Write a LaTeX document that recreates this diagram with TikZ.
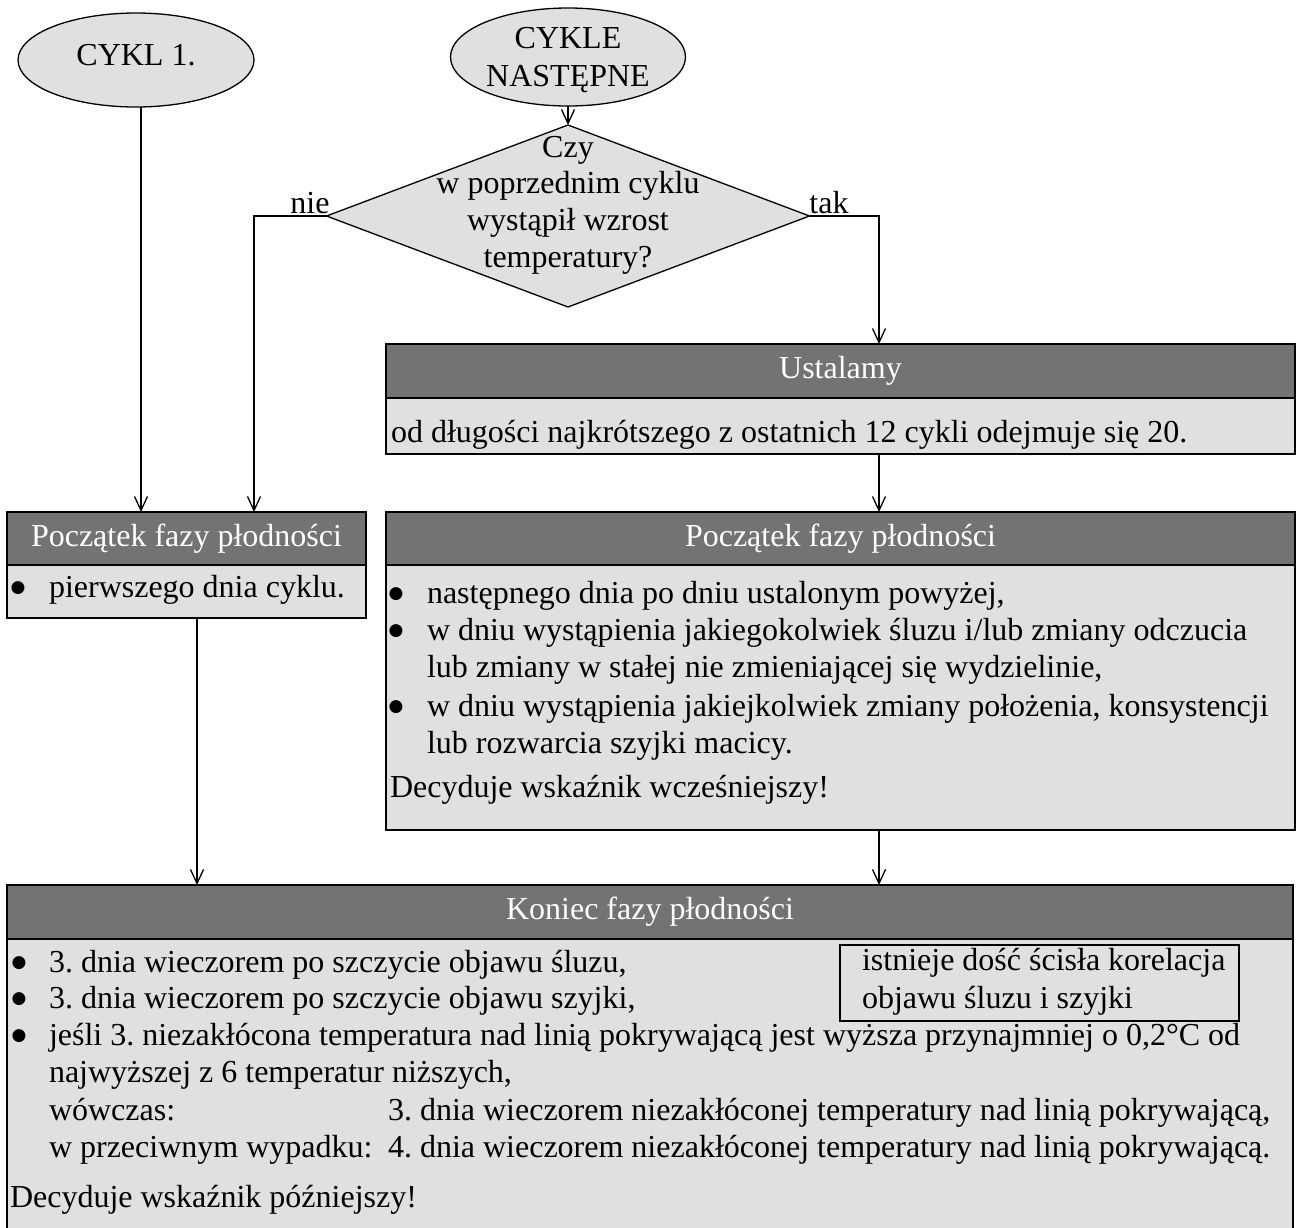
\documentclass[tikz,border=0pt]{standalone}
\usepackage{fontspec}
\setmainfont{Liberation Serif}
\newfontfamily\bulfont{DejaVu Sans}
\usetikzlibrary{shapes.geometric,arrows.meta}
\definecolor{hdr}{RGB}{115,115,115}
\definecolor{bdy}{RGB}{224,224,224}
\frenchspacing
\begin{document}
\frenchspacing
\begin{tikzpicture}[x=1pt,y=-1pt,
  every node/.style={font=\fontsize{32}{36.8}\selectfont, inner sep=0pt, outer sep=0pt},
  hdrbox/.style={draw=black, line width=1.8pt, fill=hdr, text=white, anchor=north west, text height=22pt, text depth=7pt},
  bdybox/.style={draw=black, line width=1.8pt, fill=bdy, anchor=north west},
  term/.style={ellipse, draw=black, line width=1.3pt, fill=bdy},
  arr/.style={-{Straight Barb[length=14pt,width=13pt]}, line width=1.3pt},
  txt/.style={anchor=base west},
  ctr/.style={anchor=base},
  bul/.style={anchor=base, font=\bulfont\fontsize{17}{17}\selectfont, yshift=5pt},
]
\useasboundingbox (0,0) rectangle (1297,1227);
\fill[white] (0,0) rectangle (1297,1227);

% terminals
\node[term, minimum width=236pt, minimum height=94pt] (e1) at (136,60) {};
\node[ctr] (e1t) at (136,65) {CYKL 1.};
\node[term, minimum width=235pt, minimum height=98pt] (e2) at (568,57) {};
\node[ctr] (e2a) at (568,48) {CYKLE};
\node[ctr] (e2b) at (568,86) {NASTĘPNE};

% decision
\node[diamond, draw=black, fill=bdy, line width=1.3pt, minimum width=483pt, minimum height=182pt] (d) at (568,216) {};
\node[ctr] (d1) at (568,157) {Czy};
\node[ctr] (d2) at (568,193) {w poprzednim cyklu};
\node[ctr] (d3) at (568,230) {wystąpił wzrost};
\node[ctr] (d4) at (568,267) {temperatury?};
\node[ctr] (nie) at (310,213) {nie};
\node[ctr] (tak) at (829,213) {tak};

% Ustalamy box
\node[hdrbox, minimum width=909pt, minimum height=54pt] (uh) at (386,344) {Ustalamy};
\node[bdybox, minimum width=909pt, minimum height=56pt] (ub) at (386,398) {};
\node[txt] (ut) at (391,442) {od długości najkrótszego z ostatnich 12 cykli odejmuje się 20.};

% left start box
\node[hdrbox, minimum width=359pt, minimum height=53pt] (lh) at (7,512) {Początek fazy płodności};
\node[bdybox, minimum width=359pt, minimum height=53pt] (lb) at (7,565) {};
\node[bul] (lb1) at (18,597) {●};
\node[txt] (lt1) at (49,597) {pierwszego dnia cyklu.};

% right start box
\node[hdrbox, minimum width=909pt, minimum height=53pt] (rh) at (386,512) {Początek fazy płodności};
\node[bdybox, minimum width=909pt, minimum height=265pt] (rb) at (386,565) {};
\node[bul] (rb1) at (396,603) {●};
\node[txt] (rt1) at (427,603) {następnego dnia po dniu ustalonym powyżej,};
\node[bul] (rb2) at (396,640) {●};
\node[txt] (rt2) at (427,640) {w dniu wystąpienia jakiegokolwiek śluzu i/lub zmiany odczucia};
\node[txt] (rt3) at (427,677) {lub zmiany w stałej nie zmieniającej się wydzielinie,};
\node[bul] (rb4) at (396,716) {●};
\node[txt] (rt4) at (427,716) {w dniu wystąpienia jakiejkolwiek zmiany położenia, konsystencji};
\node[txt] (rt5) at (427,753) {lub rozwarcia szyjki macicy.};
\node[txt] (rt6) at (390,797) {Decyduje wskaźnik wcześniejszy!};

% end box
\node[hdrbox, minimum width=1286pt, minimum height=54pt] (kh) at (7,885) {Koniec fazy płodności};
\node[bdybox, minimum width=1286pt, minimum height=300pt] (kb) at (7,939) {};
\node[bul] (kb1) at (19,972) {●};
\node[txt] (kt1) at (49,972) {3. dnia wieczorem po szczycie objawu śluzu,};
\node[bul] (kb2) at (19,1008) {●};
\node[txt] (kt2) at (49,1008) {3. dnia wieczorem po szczycie objawu szyjki,};
\node[bul] (kb3) at (19,1045) {●};
\node[txt] (kt3) at (49,1045) {jeśli 3. niezakłócona temperatura nad linią pokrywającą jest wyższa przynajmniej o 0,2°C od};
\node[txt] (kt4) at (49,1082) {najwyższej z 6 temperatur niższych,};
\node[txt] (kt5) at (49,1120) {wówczas:};
\node[txt] (kt5b) at (388,1120) {3. dnia wieczorem niezakłóconej temperatury nad linią pokrywającą,};
\node[txt] (kt6) at (49,1157) {w przeciwnym wypadku:};
\node[txt] (kt6b) at (388,1157) {4. dnia wieczorem niezakłóconej temperatury nad linią pokrywającą.};
\node[txt] (kt7) at (10,1207) {Decyduje wskaźnik późniejszy!};

% correlation note
\node[draw=black, line width=1.2pt, minimum width=399pt, minimum height=76pt, anchor=north west] (kor) at (840,945) {};
\node[txt] (kor1) at (862,970) {istnieje dość ścisła korelacja};
\node[txt] (kor2) at (862,1008) {objawu śluzu i szyjki};

% connectors
\coordinate (nt) at (254,216);
\coordinate (tt) at (879,216);
\draw[arr] ([xshift=5pt]e1.south) -- ([xshift=5pt]e1.south |- lh.north);
\draw[arr] (e2.south) -- (e2.south |- d.north);
\draw[arr] (d.west) -- (nt) -- (nt |- lh.north);
\draw[arr] (d.east) -- (tt) -- (tt |- uh.north);
\draw[arr] (tt |- ub.south) -- (tt |- rh.north);
\draw[arr] ([xshift=10.5pt]lb.south) -- ([xshift=10.5pt]lb.south |- kh.north);
\draw[arr] (tt |- rb.south) -- (tt |- kh.north);
\end{tikzpicture}
\end{document}
